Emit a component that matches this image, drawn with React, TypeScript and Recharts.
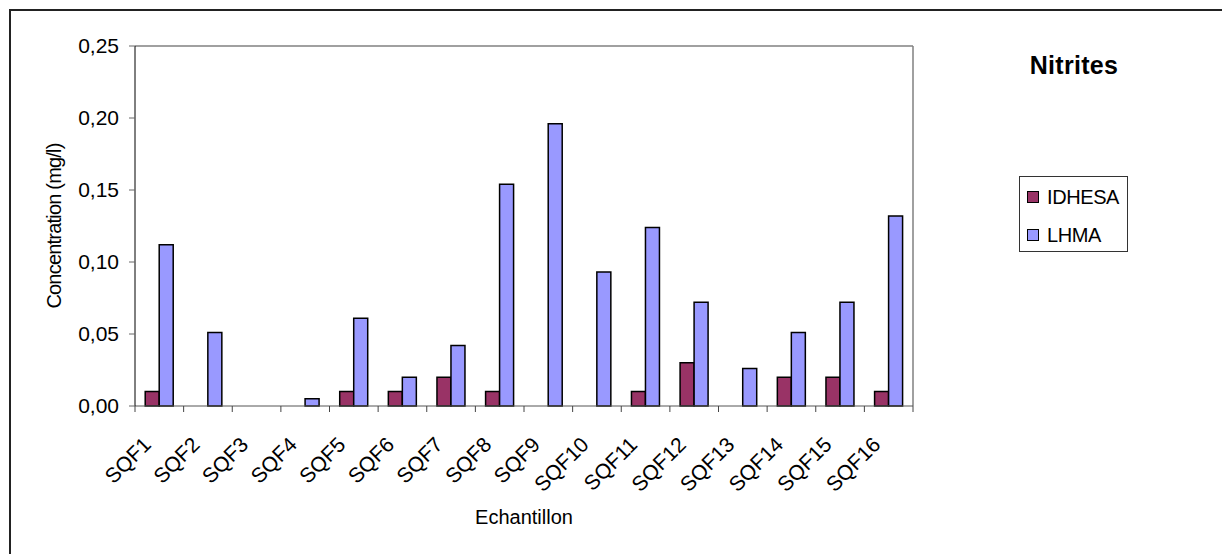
import { Bar, BarChart, Legend, ReferenceLine, XAxis, YAxis } from 'recharts';

const categories = [
  'SQF1', 'SQF2', 'SQF3', 'SQF4', 'SQF5', 'SQF6', 'SQF7', 'SQF8',
  'SQF9', 'SQF10', 'SQF11', 'SQF12', 'SQF13', 'SQF14', 'SQF15', 'SQF16',
];
const idhesa = [0.01, 0, 0, 0, 0.01, 0.01, 0.02, 0.01, 0, 0, 0.01, 0.03, 0, 0.02, 0.02, 0.01];
const lhma = [0.112, 0.051, 0, 0.005, 0.061, 0.02, 0.042, 0.154, 0.196, 0.093, 0.124, 0.072, 0.026, 0.051, 0.072, 0.132];
const yTicks = [0, 0.05, 0.1, 0.15, 0.2, 0.25];

const seriesNames = ['IDHESA', 'LHMA'];
const seriesColors = ['#993366', '#9999FF'];

const FONT = '"Liberation Sans", Arial, sans-serif';

const chartData = categories.map((name, i) => ({
  name,
  IDHESA: idhesa[i],
  LHMA: lhma[i],
}));

const fmt = (v: number) => v.toFixed(2).replace('.', ',');

// Excel-style category axis: tick marks between categories, labels rotated 45°
function XTick(props: any) {
  const { x, y, payload, index, visibleTicksCount } = props;
  const half = payload?.offset ?? 0;
  const ax = x - 7;
  const ay = y + 40;
  return (
    <g>
      <line x1={x - half} x2={x - half} y1={y} y2={y + 6} stroke="#444" />
      {index === visibleTicksCount - 1 && (
        <line x1={x + half} x2={x + half} y1={y} y2={y + 6} stroke="#444" />
      )}
      <text
        x={ax}
        y={ay}
        transform={`rotate(-45 ${ax} ${ay})`}
        textAnchor="end"
        fontSize={21}
        fontFamily={FONT}
        fill="#000"
      >
        {payload.value}
      </text>
    </g>
  );
}

function LegendBox() {
  return (
    <div
      style={{
        border: '1px solid #333',
        background: '#fff',
        width: 107,
        height: 74,
        fontFamily: FONT,
        fontSize: 20,
        position: 'relative',
      }}
    >
      {seriesNames.map((n, i) => (
        <div
          key={n}
          style={{ position: 'absolute', left: 7, top: 9 + i * 38, display: 'flex', alignItems: 'center' }}
        >
          <span
            style={{
              display: 'inline-block',
              width: 10,
              height: 10,
              background: seriesColors[i],
              border: '1.5px solid #000',
              marginRight: 8,
            }}
          />
          <span style={{ letterSpacing: -0.4, lineHeight: '22px' }}>{n}</span>
        </div>
      ))}
    </div>
  );
}

export default function App() {
  return (
    <div
      style={{
        position: 'absolute',
        left: 0,
        top: 0,
        width: 1222,
        height: 554,
        background: '#fff',
        overflow: 'hidden',
        fontFamily: FONT,
      }}
    >
      <div
        style={{
          position: 'absolute',
          left: 9,
          top: 9,
          width: 1300,
          height: 700,
          borderLeft: '2px solid #222',
          borderTop: '2px solid #222',
        }}
      />
      <div
        style={{
          position: 'absolute',
          left: 974,
          width: 200,
          top: 50,
          textAlign: 'center',
          fontWeight: 'bold',
          fontSize: 25,
          letterSpacing: 0.3,
          lineHeight: '30px',
        }}
      >
        Nitrites
      </div>
      <BarChart
        width={1222}
        height={554}
        data={chartData}
        margin={{ top: 46, right: 309, bottom: 18, left: 0 }}
        barCategoryGap="21%"
        barGap={0}
        style={{ position: 'absolute', left: 0, top: 0 }}
      >
        <XAxis
          dataKey="name"
          height={130}
          tickSize={0}
          tickMargin={0}
          tickLine={false}
          interval={0}
          axisLine={{ stroke: '#555' }}
          tick={<XTick />}
          label={{
            value: 'Echantillon',
            position: 'insideBottom',
            offset: 12,
            fontSize: 20,
            fill: '#000',
            fontFamily: FONT,
          }}
        />
        <YAxis
          width={135}
          domain={[0, 0.25]}
          ticks={yTicks}
          interval={0}
          tickFormatter={fmt}
          tickSize={6}
          tickMargin={10}
          tick={{ fontSize: 21, fill: '#000', fontFamily: FONT }}
          tickLine={{ stroke: '#666' }}
          axisLine={{ stroke: '#000' }}
          label={(p: any) => {
            const vb = p.viewBox;
            const cx = vb.x + 61;
            const cy = vb.y + vb.height / 2;
            return (
              <text
                x={cx}
                y={cy}
                transform={`rotate(-90 ${cx} ${cy})`}
                textAnchor="middle"
                fontSize={20}
                letterSpacing={-0.8}
                fontFamily={FONT}
                fill="#000"
              >
                Concentration (mg/l)
              </text>
            );
          }}
        />
        <ReferenceLine y={0.25} stroke="#808080" strokeWidth={1.5} ifOverflow="visible" />
        <ReferenceLine x="SQF16" position="end" stroke="#808080" strokeWidth={1.5} ifOverflow="visible" />
        <Legend
          layout="vertical"
          align="center"
          verticalAlign="middle"
          content={() => <LegendBox />}
          wrapperStyle={{ left: 1019, top: 176, width: 109, height: 76 }}
        />
        {seriesNames.map((n, i) => (
          <Bar
            key={n}
            dataKey={n}
            name={n}
            fill={seriesColors[i]}
            stroke="#000"
            strokeWidth={1.5}
            isAnimationActive={false}
          />
        ))}
      </BarChart>
    </div>
  );
}
